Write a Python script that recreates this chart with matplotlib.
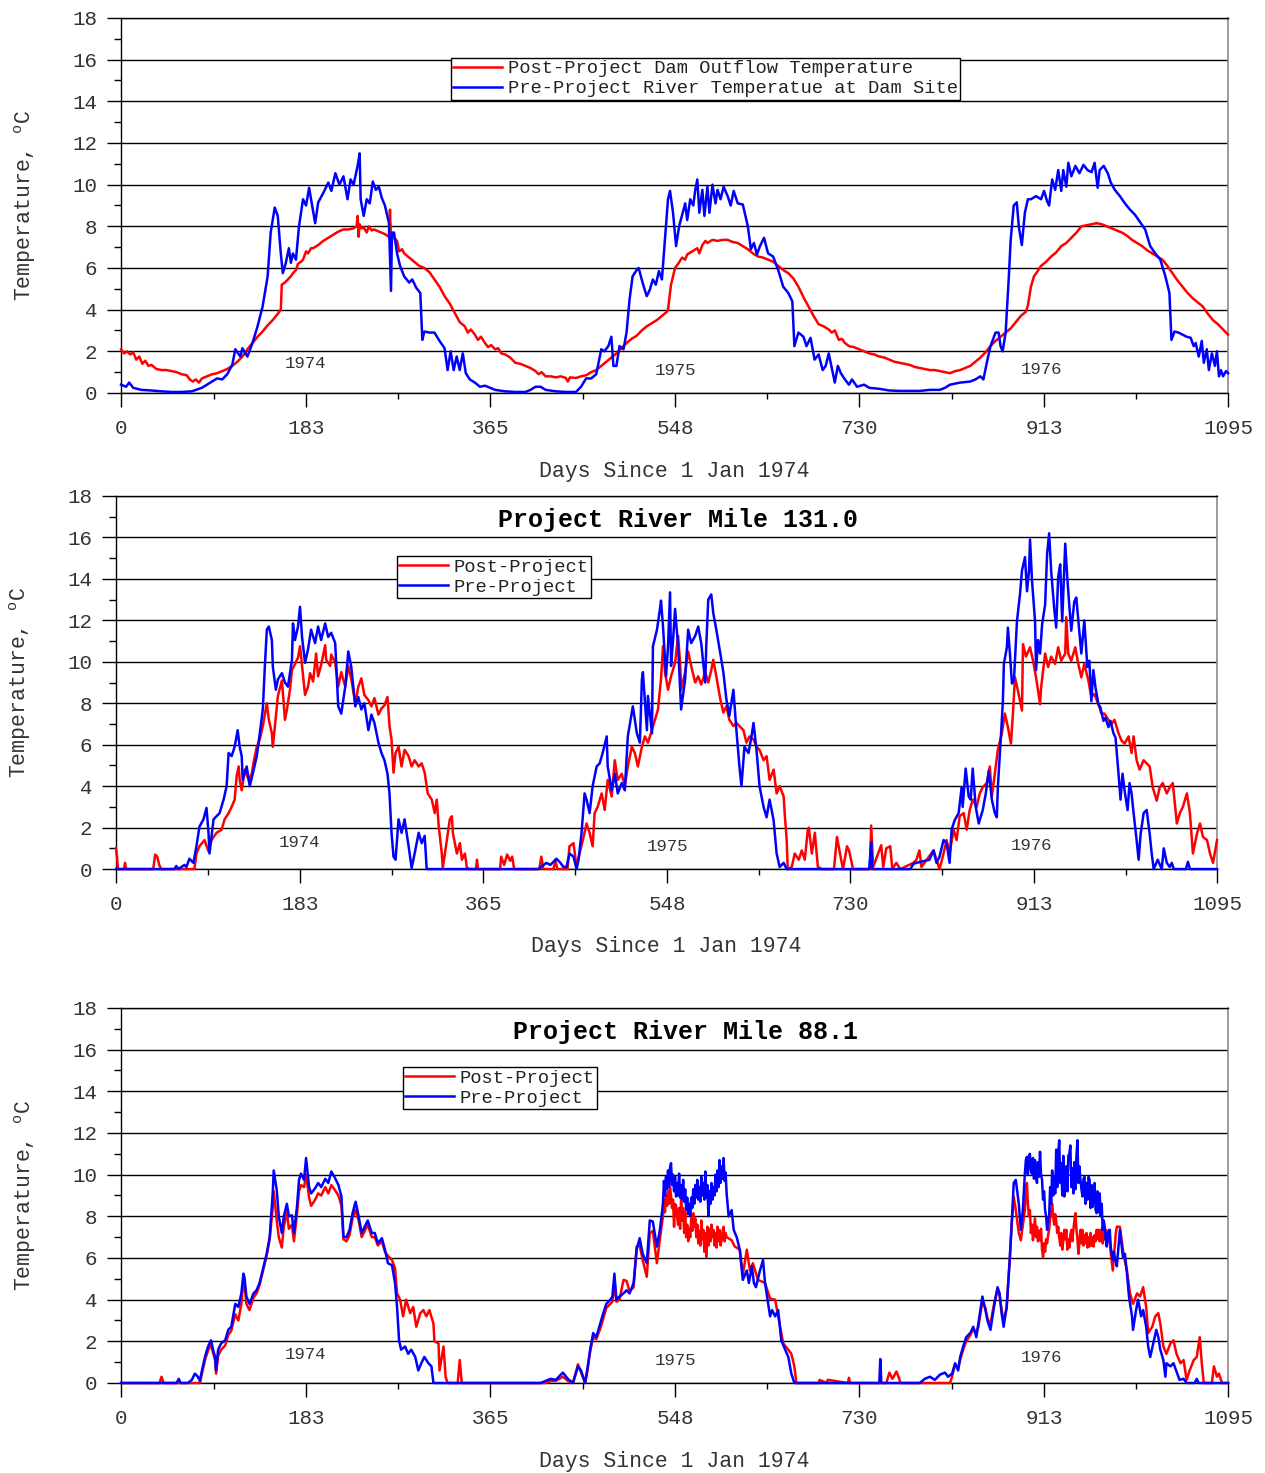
import numpy as np
import matplotlib
matplotlib.use("Agg")
import matplotlib.pyplot as plt

plt.rcParams['font.family'] = ['Liberation Mono', 'DejaVu Sans']
plt.rcParams['mathtext.fontset'] = 'custom'
plt.rcParams['mathtext.rm'] = 'Liberation Mono'

# ---- ejes comunes
xticks = [0, 183, 365, 548, 730, 913, 1095]
xticks_minor = [91.5, 274, 456.5, 639, 821.5, 1004]
year_labels = ['1974', '1975', '1976']
year_days = [182, 548, 910]

# ---- panel 1: dam site (post = outflow, pre = river)
d1_post = [0, 3, 6, 9, 12, 15, 18, 21, 24, 27,
           30, 35, 40, 45, 50, 55, 60, 65, 68, 71,
           74, 77, 80, 85, 90, 95, 100, 105, 110, 115,
           120, 125, 130, 135, 140, 145, 150, 155, 158, 159,
           162, 165, 168, 170, 173, 175, 178, 180, 183, 185,
           188, 190, 195, 200, 205, 210, 215, 220, 225, 230,
           233, 234, 235, 236, 238, 240, 243, 245, 248, 250,
           255, 260, 265, 266, 267, 270, 273, 275, 278, 280,
           285, 290, 295, 300, 305, 310, 315, 320, 325, 330,
           335, 340, 343, 346, 350, 353, 356, 360, 363, 366,
           370, 373, 376, 380, 385, 390, 395, 400, 405, 410,
           413, 416, 420, 425, 430, 435, 440, 442, 444, 450,
           455, 460, 465, 470, 475, 480, 485, 490, 495, 500,
           505, 510, 515, 520, 525, 530, 535, 540, 541, 544,
           548, 551, 555, 558, 560, 565, 570, 572, 575, 578,
           580, 585, 590, 595, 600, 605, 610, 615, 620, 625,
           630, 635, 640, 645, 650, 655, 660, 665, 670, 675,
           680, 685, 690, 695, 700, 703, 706, 710, 713, 716,
           720, 725, 730, 735, 740, 745, 750, 755, 760, 765,
           770, 775, 780, 785, 790, 795, 800, 805, 810, 815,
           820, 825, 830, 835, 840, 845, 850, 855, 860, 865,
           870, 875, 880, 885, 890, 895, 897, 900, 903, 906,
           910, 915, 920, 925, 930, 935, 940, 945, 950, 955,
           960, 965, 970, 975, 980, 985, 990, 995, 1000, 1005,
           1010, 1015, 1020, 1025, 1030, 1035, 1040, 1045, 1050, 1055,
           1060, 1065, 1070, 1075, 1080, 1085, 1090, 1095]
t1_post = [2.1, 1.9, 2.0, 1.85, 1.95, 1.6, 1.75, 1.4, 1.55, 1.3,
           1.35, 1.15, 1.1, 1.1, 1.05, 1.0, 0.9, 0.85, 0.65, 0.55,
           0.65, 0.5, 0.7, 0.8, 0.9, 0.95, 1.05, 1.15, 1.3, 1.5,
           1.75, 2.1, 2.4, 2.7, 2.95, 3.25, 3.5, 3.8, 4.0, 5.2,
           5.3, 5.45, 5.6, 5.75, 5.9, 6.2, 6.3, 6.4, 6.8, 6.7,
           6.95, 6.95, 7.1, 7.3, 7.45, 7.6, 7.75, 7.85, 7.85, 7.9,
           8.0, 8.5, 7.5, 8.1, 7.9, 7.95, 7.7, 8.0, 7.8, 7.85,
           7.75, 7.65, 7.5, 8.8, 7.4, 7.45, 7.3, 6.8, 6.9, 6.7,
           6.5, 6.3, 6.1, 6.0, 5.8, 5.45, 5.1, 4.65, 4.3, 3.85,
           3.4, 3.2, 2.9, 3.05, 2.8, 2.55, 2.7, 2.4, 2.2, 2.3,
           2.1, 2.15, 1.9, 1.85, 1.7, 1.45, 1.4, 1.3, 1.2, 1.05,
           0.9, 1.0, 0.8, 0.8, 0.75, 0.8, 0.72, 0.55, 0.75, 0.72,
           0.8, 0.85, 1.0, 1.1, 1.3, 1.5, 1.7, 1.9, 2.15, 2.4,
           2.6, 2.75, 3.0, 3.2, 3.35, 3.5, 3.7, 3.9, 4.0, 5.2,
           6.0, 6.2, 6.5, 6.4, 6.65, 6.8, 6.95, 6.7, 7.1, 7.3,
           7.2, 7.35, 7.3, 7.35, 7.35, 7.25, 7.2, 7.05, 6.9, 6.7,
           6.55, 6.5, 6.4, 6.3, 6.1, 5.9, 5.75, 5.5, 5.1, 4.6,
           4.15, 3.7, 3.3, 3.2, 3.05, 2.9, 3.0, 2.55, 2.6, 2.4,
           2.25, 2.2, 2.1, 2.0, 1.9, 1.85, 1.75, 1.7, 1.6, 1.5,
           1.45, 1.4, 1.35, 1.25, 1.2, 1.15, 1.1, 1.1, 1.05, 1.0,
           0.95, 1.05, 1.1, 1.2, 1.3, 1.5, 1.7, 1.95, 2.25, 2.5,
           2.7, 2.9, 3.1, 3.4, 3.7, 3.9, 4.2, 5.1, 5.6, 5.8,
           6.1, 6.3, 6.55, 6.75, 7.05, 7.2, 7.45, 7.7, 8.0, 8.05,
           8.1, 8.15, 8.1, 8.0, 7.9, 7.8, 7.7, 7.55, 7.35, 7.2,
           7.05, 6.85, 6.7, 6.55, 6.4, 6.1, 5.75, 5.4, 5.1, 4.8,
           4.55, 4.35, 4.15, 3.8, 3.5, 3.3, 3.05, 2.8]

d1_pre = [0, 5, 8, 12, 20, 30, 40, 50, 60, 70,
          80, 90, 95, 100, 105, 110, 113, 118, 120, 125,
          130, 135, 140, 145, 148, 152, 155, 158, 160, 163,
          166, 168, 170, 173, 176, 180, 183, 186, 189, 192,
          195, 200, 205, 208, 212, 216, 220, 224, 227, 230,
          234, 236, 237, 240, 243, 246, 249, 252, 255, 258,
          261, 265, 267, 268, 270, 273, 276, 280, 285, 288,
          292, 296, 298, 300, 305, 310, 315, 320, 323, 326,
          329, 332, 335, 338, 341, 345, 350, 355, 360, 365,
          370, 380, 390, 400, 405, 410, 415, 420, 430, 440,
          450, 455, 460, 465, 470, 475, 478, 482, 485, 487,
          490, 493, 497, 500, 503, 506, 510, 512, 515, 518,
          520, 523, 526, 529, 532, 535, 538, 541, 543, 546,
          549, 552, 555, 558, 560, 563, 566, 568, 570, 572,
          575, 577, 580, 582, 585, 588, 590, 593, 596, 600,
          603, 606, 610, 615, 620, 623, 626, 629, 632, 636,
          640, 645, 650, 655, 660, 664, 666, 670, 675, 678,
          682, 686, 690, 694, 697, 700, 703, 706, 709, 712,
          716, 720, 723, 728, 735, 740, 750, 760, 770, 780,
          790, 800, 810, 815, 820, 830, 840, 845, 850, 853,
          857, 860, 865, 868, 870, 872, 875, 878, 880, 883,
          886, 888, 891, 894, 897, 900, 905, 910, 913, 916,
          918, 921, 924, 927, 930, 932, 935, 937, 940, 944,
          948, 952, 956, 960, 963, 966, 968, 972, 976, 979,
          983, 988, 993, 998, 1003, 1008, 1013, 1018, 1023, 1028,
          1033, 1037, 1039, 1042, 1046, 1050, 1054, 1058, 1061, 1063,
          1066, 1069, 1071, 1074, 1076, 1079, 1082, 1084, 1086, 1088,
          1090, 1093, 1095]
t1_pre = [0.4, 0.3, 0.5, 0.25, 0.15, 0.12, 0.08, 0.05, 0.05, 0.08,
          0.25, 0.55, 0.7, 0.65, 0.9, 1.35, 2.1, 1.75, 2.15, 1.75,
          2.4, 3.2, 4.15, 5.6, 7.7, 8.9, 8.5, 6.7, 5.75, 6.25,
          6.95, 6.25, 6.7, 6.4, 8.0, 9.3, 9.0, 9.85, 9.0, 8.15,
          9.15, 9.6, 10.1, 9.7, 10.55, 10.0, 10.4, 9.3, 10.25, 10.0,
          10.9, 11.5, 9.3, 8.5, 9.3, 9.1, 10.15, 9.75, 9.9, 9.35,
          9.0, 8.15, 4.9, 7.7, 7.7, 6.7, 6.1, 5.6, 5.3, 5.45,
          5.05, 4.8, 2.55, 2.95, 2.9, 2.9, 2.5, 2.15, 1.1, 2.0,
          1.1, 1.75, 1.1, 1.9, 0.95, 0.65, 0.5, 0.3, 0.35, 0.25,
          0.15, 0.08, 0.05, 0.05, 0.15, 0.3, 0.3, 0.15, 0.08, 0.05,
          0.05, 0.3, 0.7, 0.7, 0.9, 2.1, 2.0, 2.25, 2.7, 1.3,
          1.3, 2.25, 2.1, 2.9, 4.5, 5.6, 5.9, 6.0, 5.45, 4.95,
          4.65, 4.95, 5.45, 5.2, 5.85, 5.45, 7.35, 9.3, 9.7, 8.65,
          7.05, 8.0, 8.55, 9.1, 8.3, 9.3, 9.0, 9.75, 10.25, 8.65,
          9.75, 8.5, 9.9, 8.65, 10.0, 9.1, 9.75, 9.3, 9.9, 9.45,
          9.0, 9.7, 9.1, 9.05, 8.0, 6.9, 7.2, 6.65, 7.05, 7.45,
          6.7, 6.55, 5.9, 5.1, 4.8, 4.4, 2.25, 2.9, 2.7, 2.25,
          2.65, 1.6, 1.85, 1.1, 1.3, 1.9, 1.2, 0.5, 1.3, 0.95,
          0.65, 0.4, 0.65, 0.3, 0.4, 0.25, 0.2, 0.12, 0.1, 0.1,
          0.1, 0.15, 0.15, 0.25, 0.4, 0.5, 0.55, 0.65, 0.8, 0.65,
          1.6, 2.25, 2.9, 2.9, 2.25, 2.0, 2.9, 5.45, 7.35, 9.0,
          9.15, 8.0, 7.1, 8.65, 9.3, 9.3, 9.45, 9.3, 9.7, 9.2,
          9.0, 10.25, 9.75, 10.7, 9.7, 10.7, 9.9, 11.05, 10.4, 10.9,
          10.55, 10.95, 10.7, 10.6, 11.05, 9.85, 10.7, 10.9, 10.55, 10.1,
          9.75, 9.45, 9.1, 8.8, 8.55, 8.2, 7.85, 7.05, 6.7, 6.4,
          5.6, 4.8, 2.55, 2.95, 2.9, 2.8, 2.7, 2.65, 2.25, 2.4,
          1.75, 2.5, 1.45, 2.1, 1.1, 1.9, 1.3, 2.0, 0.8, 1.1,
          0.8, 1.05, 0.95]

# ---- panel 2: river mile 131.0
d2_post = [0, 1, 2, 5, 8, 9, 10, 37, 39, 41,
           43, 45, 78, 80, 83, 88, 92, 95, 100, 105,
           108, 112, 115, 118, 120, 122, 123, 125, 128, 132,
           135, 137, 140, 143, 146, 150, 152, 155, 156, 159,
           161, 165, 166, 168, 170, 173, 175, 178, 181, 183,
           185, 188, 191, 193, 196, 199, 201, 204, 208, 209,
           213, 214, 218, 221, 224, 228, 231, 234, 238, 241,
           244, 247, 251, 254, 257, 261, 264, 267, 270, 272,
           274, 276, 278, 281, 284, 287, 291, 294, 297, 301,
           304, 307, 310, 314, 317, 319, 321, 324, 325, 329,
           332, 334, 335, 339, 342, 344, 347, 349, 352, 358,
           359, 360, 362, 382, 383, 386, 389, 392, 394, 396,
           421, 423, 425, 435, 437, 439, 449, 451, 455, 458,
           461, 465, 468, 471, 474, 476, 479, 483, 486, 489,
           493, 496, 499, 503, 506, 509, 513, 516, 519, 523,
           526, 529, 533, 536, 539, 542, 544, 546, 549, 552,
           556, 559, 561, 562, 566, 569, 572, 576, 579, 582,
           586, 589, 592, 594, 597, 601, 604, 607, 610, 614,
           617, 620, 624, 627, 630, 634, 637, 640, 644, 647,
           650, 654, 657, 660, 664, 665, 667, 668, 672, 675,
           679, 682, 685, 688, 689, 692, 695, 698, 702, 714,
           717, 720, 723, 727, 729, 733, 750, 751, 753, 758,
           761, 763, 766, 770, 772, 776, 780, 793, 796, 799,
           801, 813, 816, 819, 823, 826, 829, 833, 836, 839,
           843, 846, 849, 852, 856, 859, 862, 866, 869, 871,
           874, 877, 881, 884, 887, 890, 892, 894, 897, 901,
           902, 905, 909, 912, 915, 919, 920, 924, 927, 930,
           934, 937, 940, 944, 945, 947, 950, 954, 957, 960,
           963, 967, 970, 973, 977, 980, 983, 987, 990, 993,
           997, 1000, 1003, 1007, 1010, 1012, 1015, 1018, 1022, 1025,
           1028, 1031, 1035, 1038, 1041, 1045, 1048, 1051, 1055, 1058,
           1061, 1065, 1068, 1071, 1075, 1078, 1081, 1085, 1088, 1091,
           1095]
t2_post = [1.0, 0.6, 0, 0, 0, 0.3, 0, 0, 0.7, 0.6,
           0.2, 0, 0, 0.75, 1.1, 1.4, 0.85, 1.4, 1.75, 1.9,
           2.4, 2.7, 3.0, 3.35, 4.5, 4.95, 4.3, 3.8, 4.8, 4.3,
           4.6, 5.2, 5.9, 6.25, 6.9, 8.0, 7.2, 6.55, 5.9, 7.35,
           8.35, 9.1, 8.5, 7.2, 7.7, 8.65, 9.6, 9.9, 10.2, 10.75,
           9.8, 8.4, 8.8, 9.45, 9.05, 10.4, 9.3, 9.85, 10.8, 10.1,
           9.8, 10.35, 9.95, 8.8, 9.5, 8.8, 9.8, 9.15, 8.0, 8.8,
           9.2, 8.4, 8.15, 7.85, 8.25, 7.45, 7.75, 7.9, 8.3, 6.9,
           6.25, 4.65, 5.6, 5.9, 4.95, 5.75, 5.45, 4.95, 5.25, 4.95,
           5.1, 4.65, 3.65, 3.35, 2.7, 3.35, 2.05, 0.75, 0.05, 1.4,
           2.4, 2.55, 1.75, 0.75, 1.25, 0.45, 0.75, 0.05, 0, 0,
           0.45, 0, 0, 0, 0.6, 0.2, 0.7, 0.4, 0.6, 0,
           0, 0.6, 0, 0, 0.4, 0, 0, 1.1, 1.25, 0.1,
           0.75, 1.55, 2.2, 1.75, 1.1, 2.7, 3.0, 3.65, 2.85, 4.3,
           3.5, 5.25, 4.3, 4.6, 4.0, 4.95, 5.9, 5.6, 4.95, 5.9,
           6.4, 6.1, 6.7, 7.2, 7.7, 9.15, 10.75, 9.5, 8.65, 9.3,
           9.95, 11.25, 9.95, 8.65, 9.5, 10.5, 9.8, 9.0, 9.3, 8.9,
           9.5, 9.0, 9.6, 10.1, 9.3, 8.2, 7.55, 7.85, 7.2, 6.9,
           7.05, 6.9, 6.7, 6.1, 6.4, 6.25, 5.9, 5.75, 5.25, 5.45,
           4.3, 4.8, 3.65, 4.0, 3.5, 2.7, 1.4, 0, 0.1, 0.75,
           0.45, 0.9, 0.45, 1.9, 2.0, 0.75, 1.75, 0.1, 0, 0,
           1.55, 0.75, 0, 1.1, 0.9, 0, 0, 2.1, 0.1, 0.75,
           1.15, 0.1, 1.0, 1.1, 0, 0.3, 0, 0.3, 0.45, 0.9,
           0.1, 0.9, 0.45, 0, 0.75, 1.4, 0.75, 1.9, 1.4, 2.55,
           2.7, 1.9, 2.85, 3.35, 3.0, 3.65, 3.95, 4.15, 4.95, 3.5,
           4.6, 5.75, 6.55, 7.5, 6.85, 6.05, 7.5, 9.25, 8.6, 7.65,
           10.85, 10.25, 10.7, 10.05, 9.25, 7.95, 8.75, 10.4, 9.75, 10.25,
           9.9, 10.7, 10.05, 10.4, 12.15, 10.4, 10.05, 10.7, 9.9, 9.25,
           9.9, 9.1, 8.3, 8.45, 7.95, 7.5, 7.5, 7.2, 7.0, 7.2,
           6.55, 6.2, 6.05, 6.4, 5.6, 6.4, 5.25, 4.8, 5.25, 5.1,
           4.95, 3.95, 3.3, 3.95, 4.15, 3.65, 3.95, 4.15, 2.2, 2.7,
           3.0, 3.65, 2.7, 0.75, 1.7, 2.2, 1.55, 1.4, 0.75, 0.3,
           1.4]

d2_pre = [0, 58, 60, 62, 68, 70, 73, 77, 80, 83,
          87, 90, 92, 93, 97, 100, 103, 107, 110, 112,
          115, 118, 121, 123, 125, 126, 130, 133, 136, 140,
          143, 146, 148, 150, 152, 155, 156, 159, 161, 165,
          168, 171, 175, 176, 178, 181, 183, 185, 188, 191,
          194, 198, 201, 204, 208, 211, 214, 218, 221, 224,
          228, 231, 234, 238, 241, 244, 247, 251, 254, 257,
          261, 264, 267, 270, 272, 274, 276, 278, 281, 284,
          287, 291, 294, 297, 301, 304, 307, 309, 420, 428,
          432, 438, 442, 445, 448, 451, 455, 458, 460, 463,
          466, 468, 471, 474, 478, 481, 484, 488, 489, 493,
          496, 499, 503, 506, 509, 513, 514, 518, 521, 523,
          524, 528, 529, 533, 534, 538, 541, 542, 544, 547,
          549, 551, 552, 554, 556, 559, 562, 566, 569, 572,
          576, 579, 582, 586, 587, 589, 592, 594, 597, 601,
          604, 607, 610, 614, 617, 620, 622, 625, 629, 632,
          634, 637, 640, 644, 647, 650, 654, 657, 660, 664,
          667, 749, 750, 751, 752, 790, 793, 796, 809, 813,
          816, 819, 823, 826, 829, 831, 834, 838, 841, 842,
          845, 848, 850, 852, 855, 858, 862, 865, 868, 871,
          874, 876, 877, 880, 882, 883, 886, 887, 889, 891,
          893, 896, 899, 901, 904, 906, 908, 909, 911, 914,
          915, 917, 919, 921, 924, 926, 928, 930, 933, 935,
          937, 939, 941, 944, 946, 948, 950, 953, 955, 958,
          960, 962, 963, 966, 968, 970, 972, 974, 977, 979,
          982, 984, 987, 989, 992, 994, 997, 999, 1001, 1003,
          1006, 1008, 1010, 1012, 1015, 1017, 1019, 1022, 1025, 1028,
          1030, 1032, 1036, 1040, 1042, 1045, 1048, 1050, 1052, 1064,
          1066, 1068, 1095]
t2_pre = [0, 0, 0.15, 0, 0.2, 0.1, 0.5, 0.3, 1.1, 2.05,
          2.4, 2.95, 1.75, 0.75, 2.4, 2.55, 2.7, 3.35, 4.0, 5.6,
          5.45, 5.9, 6.7, 5.9, 5.45, 4.3, 4.95, 4.0, 4.6, 5.45,
          6.55, 7.7, 9.75, 11.55, 11.7, 11.05, 9.75, 8.65, 9.15, 9.45,
          9.0, 8.8, 10.1, 11.85, 11.05, 11.7, 12.65, 11.2, 9.95, 10.6,
          11.55, 10.9, 11.7, 11.05, 11.85, 11.2, 11.4, 10.9, 7.85, 7.5,
          8.8, 10.5, 9.75, 7.85, 8.3, 7.7, 8.0, 6.7, 7.45, 7.05,
          6.1, 5.6, 5.25, 4.6, 3.65, 1.75, 0.6, 0.45, 2.4, 1.75,
          2.4, 1.1, 0.05, 0.75, 1.75, 1.25, 1.6, 0, 0, 0.3,
          0.2, 0.5, 0.3, 0.1, 0.1, 0.75, 0.6, 0, 0.45, 1.75,
          3.65, 3.35, 2.7, 4.0, 4.95, 5.1, 5.6, 6.4, 4.95, 3.8,
          4.6, 3.65, 4.15, 3.8, 6.4, 7.55, 7.85, 6.55, 6.1, 9.15,
          9.5, 6.7, 8.35, 6.55, 10.75, 11.55, 12.55, 12.95, 11.7, 9.3,
          10.75, 13.35, 9.8, 11.05, 12.55, 10.75, 7.7, 9.15, 11.55, 10.9,
          11.25, 11.7, 10.9, 9.0, 10.75, 13.0, 13.25, 12.35, 11.55, 10.4,
          9.5, 8.2, 7.4, 8.65, 6.7, 4.95, 4.0, 5.9, 5.6, 6.4,
          7.05, 5.75, 4.0, 3.0, 2.5, 3.35, 2.35, 0.75, 0.1, 0.3,
          0, 0, 0.6, 1.3, 0, 0, 0.25, 0.3, 0.45, 0.9,
          0.3, 0.6, 1.4, 1.25, 0.3, 1.9, 2.35, 2.7, 3.95, 3.0,
          4.85, 3.5, 3.35, 4.85, 3.0, 2.2, 2.85, 3.65, 4.75, 3.35,
          2.7, 2.5, 3.95, 6.35, 8.1, 9.9, 10.7, 11.65, 10.4, 8.95,
          9.1, 11.95, 13.25, 14.4, 15.05, 13.4, 14.4, 15.9, 13.9, 11.95,
          9.6, 11.05, 10.4, 11.8, 12.75, 15.2, 16.2, 14.4, 12.6, 11.65,
          14.1, 14.7, 11.95, 15.7, 14.1, 12.75, 11.5, 12.9, 13.1, 11.5,
          10.4, 11.5, 12.0, 9.75, 10.05, 8.1, 9.6, 8.8, 7.95, 7.8,
          7.15, 7.3, 6.85, 7.15, 6.55, 6.35, 4.6, 3.35, 4.6, 3.8,
          2.85, 4.15, 3.65, 2.7, 1.4, 0.45, 1.7, 2.7, 2.85, 1.7,
          0.75, 0, 0.45, 0, 1.0, 0.3, 0.1, 0.3, 0, 0,
          0.35, 0, 0]

# ---- panel 3: river mile 88.1 (en tramos; los picos de 1975 y 1976 van día a día)
d3_post_a = [0, 38, 40, 42, 78, 80, 83, 86, 89, 91,
             93, 94, 96, 99, 103, 106, 109, 113, 116, 119,
             121, 122, 124, 127, 131, 134, 137, 141, 144, 147,
             150, 151, 154, 156, 159, 161, 164, 166, 169, 171,
             174, 176, 178, 181, 183, 186, 188, 192, 195, 198,
             202, 205, 208, 211, 215, 218, 220, 223, 226, 229,
             232, 235, 238, 241, 244, 248, 251, 254, 258, 261,
             264, 268, 271, 273, 276, 279, 282, 286, 289, 292,
             296, 299, 302, 305, 309, 310, 314, 315, 319, 321,
             323, 333, 335, 337, 420, 425, 430, 437, 442, 447,
             452, 455, 459, 461, 464, 467, 470, 474, 477, 480,
             484, 486, 488, 490, 493, 497, 500, 503, 507, 510,
             513, 516, 520, 523, 526, 530, 533]
t3_post_a = [0, 0, 0.3, 0, 0, 0.45, 1.1, 1.55, 1.85, 1.45,
             1.1, 0.45, 1.3, 1.6, 1.8, 2.3, 2.5, 3.3, 3.0, 3.8,
             4.9, 4.8, 3.8, 3.5, 4.1, 4.3, 4.7, 5.5, 6.1, 6.9,
             8.4, 9.2, 7.8, 7.0, 6.5, 7.5, 8.2, 7.4, 7.6, 6.8,
             8.1, 9.2, 9.5, 9.4, 10.0, 8.9, 8.5, 8.8, 9.1, 9.0,
             9.4, 9.1, 9.5, 9.3, 9.0, 8.5, 6.9, 6.8, 7.1, 7.9,
             8.3, 7.8, 7.0, 7.3, 7.6, 7.0, 7.0, 6.6, 6.8, 6.3,
             6.1, 5.9, 5.5, 4.3, 4.0, 3.2, 4.0, 3.35, 3.65, 2.7,
             3.35, 3.5, 3.2, 3.5, 2.85, 2.0, 1.9, 0.6, 1.75, 0.3,
             0, 0, 1.1, 0, 0, 0.1, 0.1, 0.3, 0.1, 0,
             0.9, 0.5, 0, 0.5, 1.5, 2.2, 2.1, 2.6, 3.1, 3.6,
             3.8, 3.9, 4.8, 3.9, 4.0, 4.95, 4.9, 4.4, 4.6, 6.55,
             6.6, 5.9, 5.1, 7.2, 7.3, 5.75, 6.9]
d3_75 = list(range(536, 600))
t3_post_75 = [8.0, 8.8, 8.2, 9.0, 8.5, 9.2, 8.6, 9.4, 9.0, 8.4,
              8.8, 7.5, 8.6, 8.5, 8.0, 7.6, 8.4, 7.4, 8.9, 7.8,
              8.4, 7.2, 8.2, 7.0, 7.6, 6.8, 7.4, 7.0, 7.9, 7.3,
              8.15, 7.5, 7.9, 7.0, 7.6, 6.7, 7.3, 6.6, 7.8, 6.9,
              7.35, 6.3, 7.2, 6.05, 7.5, 6.6, 7.4, 6.8, 7.6, 7.0,
              7.35, 6.6, 7.2, 6.5, 7.5, 6.8, 7.35, 6.6, 6.85, 7.3,
              7.5, 6.8, 7.2, 7.0]
d3_post_b = [604, 607, 612, 615, 619, 622, 625, 630, 637, 642,
             647, 650, 655, 660, 663, 666, 668, 690, 691, 698,
             699, 719, 720, 721, 757, 760, 763, 767, 769, 771,
             820, 822, 825, 828, 830, 833, 836, 840, 843, 846,
             848, 850, 852, 855, 857, 860, 862, 864, 867, 869,
             871, 873, 876, 879, 881, 883, 885, 888, 890]
t3_post_b = [6.85, 6.55, 6.4, 5.2, 6.4, 5.4, 5.75, 4.95, 4.8, 4.05,
             4.0, 3.2, 1.9, 1.6, 1.4, 0.8, 0, 0, 0.15, 0,
             0.15, 0, 0.25, 0, 0, 0.5, 0.2, 0.55, 0.3, 0,
             0, 0.3, 0.9, 0.7, 1.1, 1.6, 2.0, 2.3, 2.6, 2.4,
             2.7, 3.3, 3.9, 3.6, 3.1, 2.8, 3.4, 3.9, 4.5, 4.2,
             3.5, 3.0, 3.6, 5.9, 7.65, 8.95, 8.3, 7.2, 6.85]
d3_76 = list(range(894, 986))
t3_post_76 = [8.3, 9.2, 9.6, 8.6, 8.0, 8.3, 7.2, 7.6, 6.85, 7.4,
              7.9, 7.0, 7.5, 6.8, 7.3, 6.85, 7.4, 6.4, 6.05, 6.7,
              6.3, 6.9, 6.7, 7.1, 7.35, 7.9, 8.3, 8.6, 8.0, 7.6,
              8.1, 7.8, 7.2, 7.5, 7.0, 6.6, 7.2, 6.4, 6.8, 7.35,
              6.9, 7.35, 6.4, 6.9, 6.5, 7.1, 7.35, 6.8, 7.35, 7.8,
              8.15, 7.4, 6.9, 6.2, 6.8, 7.35, 6.7, 7.35, 6.6, 7.1,
              6.7, 7.2, 6.5, 7.0, 6.55, 7.2, 6.6, 7.0, 6.55, 7.1,
              6.8, 7.35, 6.9, 7.35, 6.8, 7.35, 7.0, 6.7, 7.35, 6.9,
              7.35, 6.7, 7.1, 7.35, 6.8, 6.2, 5.8, 5.4, 6.05, 6.6,
              7.2, 7.5]
d3_post_c = [988, 992, 995, 998, 1001, 1005, 1008, 1011, 1014, 1016,
             1020, 1023, 1026, 1028, 1031, 1034, 1038, 1041, 1044, 1048,
             1051, 1054, 1057, 1061, 1064, 1067, 1069, 1071, 1079, 1081,
             1084, 1086, 1089, 1095]
t3_post_c = [7.5, 6.05, 5.4, 4.3, 3.8, 4.3, 4.15, 4.6, 3.65, 2.4,
             2.7, 3.2, 3.35, 2.85, 1.75, 1.4, 1.9, 2.05, 1.4, 0.95,
             1.1, 0.15, 0.6, 1.1, 1.25, 2.2, 0.95, 0, 0, 0.8,
             0.3, 0.45, 0, 0]

d3_pre_a = [0, 55, 57, 59, 66, 70, 73, 76, 78, 80,
            83, 86, 89, 91, 93, 94, 96, 99, 103, 106,
            109, 113, 116, 119, 121, 122, 124, 127, 131, 134,
            137, 141, 144, 147, 150, 151, 154, 156, 159, 161,
            164, 166, 169, 171, 174, 176, 178, 181, 183, 186,
            188, 192, 195, 198, 202, 205, 208, 211, 215, 218,
            220, 223, 226, 229, 232, 235, 238, 241, 244, 248,
            251, 254, 258, 261, 264, 268, 271, 273, 275, 277,
            281, 284, 287, 291, 294, 297, 300, 304, 307, 309,
            415, 420, 425, 430, 437, 442, 447, 452, 455, 459,
            461, 464, 467, 470, 474, 477, 480, 484, 486, 488,
            490, 493, 497, 500, 503, 507, 510, 513, 516, 520,
            523, 526, 530, 533]
t3_pre_a = [0, 0, 0.2, 0, 0, 0.15, 0.45, 0.3, 0.1, 0.6,
            1.25, 1.75, 2.05, 1.6, 1.25, 0.6, 1.6, 1.9, 2.05, 2.55,
            2.7, 3.8, 3.65, 4.3, 5.25, 5.1, 4.15, 3.8, 4.3, 4.45,
            4.8, 5.6, 6.2, 7.0, 9.1, 10.2, 9.25, 8.0, 7.2, 8.0,
            8.6, 8.0, 8.05, 7.2, 8.45, 9.75, 10.05, 9.75, 10.8, 9.4,
            9.1, 9.35, 9.6, 9.4, 9.8, 9.6, 10.15, 9.9, 9.5, 8.95,
            7.0, 7.0, 7.35, 8.15, 8.7, 8.0, 7.2, 7.5, 7.8, 7.2,
            7.2, 6.7, 6.95, 6.4, 5.75, 5.65, 4.8, 3.65, 2.05, 1.6,
            1.75, 1.4, 1.6, 1.25, 0.6, 0.95, 1.25, 0.95, 0.8, 0,
            0, 0.1, 0.2, 0.15, 0.5, 0.2, 0, 0.8, 0.6, 0,
            0.6, 1.6, 2.4, 2.2, 2.85, 3.35, 3.8, 4.0, 4.15, 5.25,
            4.0, 4.15, 4.3, 4.45, 4.3, 4.8, 6.4, 6.95, 6.2, 5.75,
            7.8, 7.75, 6.55, 7.35]
t3_pre_75 = [8.6, 9.7, 9.0, 9.9, 9.3, 10.2, 9.4, 10.3, 10.55, 9.5,
             10.0, 9.2, 9.9, 8.95, 9.6, 9.0, 10.05, 8.9, 9.5, 8.8,
             9.75, 8.7, 9.3, 8.3, 8.9, 8.1, 8.6, 8.0, 8.9, 8.4,
             9.3, 8.6, 9.5, 8.9, 9.75, 8.8, 9.4, 8.7, 9.9, 9.0,
             9.6, 8.8, 10.15, 8.9, 9.5, 8.0, 9.2, 8.6, 9.6, 8.8,
             9.4, 9.0, 10.0, 9.2, 10.2, 9.4, 10.7, 9.6, 10.4, 9.8,
             10.8, 9.7, 10.1, 9.1]
d3_pre_b = [601, 604, 606, 609, 612, 615, 619, 621, 624,
            626, 628, 632, 635, 637, 639, 642, 644, 647, 650,
            653, 657, 660, 663, 666, 750, 751, 752, 790, 795,
            800, 805, 810, 815, 818, 822, 825, 828, 830, 833,
            836, 840, 843, 846, 848, 850, 852, 855, 857, 860,
            862, 864, 867, 869, 871, 873, 876, 879, 881, 883,
            885, 888, 890, 892]
t3_pre_b = [8.0, 8.3, 7.35, 7.0, 6.4, 4.95, 5.4, 4.8, 5.6,
            4.8, 4.6, 5.4, 5.9, 4.8, 4.15, 3.2, 3.5, 3.2, 3.5,
            2.05, 1.6, 1.25, 0.45, 0, 0, 1.15, 0, 0, 0.2,
            0.3, 0.15, 0.4, 0.5, 0.3, 0.45, 0.95, 0.6, 1.25, 1.75,
            2.2, 2.4, 2.7, 2.2, 2.85, 3.5, 4.15, 3.5, 3.0, 2.55,
            3.2, 3.8, 4.6, 4.3, 3.35, 2.7, 3.65, 5.9, 7.65, 9.6,
            9.75, 8.6, 7.35, 8.3]
t3_pre_76 = [10.05, 10.7, 10.85, 10.0, 10.9, 11.0, 10.2, 10.05, 10.8, 9.8,
             10.7, 9.9, 9.6, 10.6, 9.9, 11.1, 10.0, 9.75, 8.8, 9.2,
             8.3, 8.0, 7.35, 7.9, 8.0, 9.4, 8.6, 10.2, 9.0, 9.9,
             9.1, 11.2, 9.4, 11.0, 11.65, 9.6, 10.55, 9.0, 10.9, 8.95,
             9.8, 10.4, 9.2, 10.9, 11.0, 11.4, 9.4, 10.3, 9.1, 10.6,
             9.3, 10.85, 11.65, 9.6, 10.4, 9.75, 9.3, 8.95, 9.8, 9.9,
             8.6, 9.6, 8.8, 9.9, 9.75, 8.4, 9.5, 8.45, 9.3, 9.6,
             8.3, 8.15, 9.2, 8.2, 9.1, 8.0, 8.6, 7.35, 7.8, 7.5,
             6.9, 6.55, 7.2, 6.8, 7.35, 6.5, 6.2, 5.9, 6.3, 6.05,
             5.8, 5.6]
d3_pre_c = [988, 991, 993, 995, 997, 1000, 1001,
            1004, 1006, 1009, 1011, 1014, 1016, 1018, 1021, 1024, 1026,
            1028, 1031, 1033, 1034, 1038, 1041, 1044, 1047, 1051, 1054,
            1062, 1064, 1066, 1095]
t3_pre_c = [7.35, 6.05, 6.2, 5.25, 4.15, 3.2, 2.55,
            3.5, 4.0, 3.2, 3.5, 2.7, 1.75, 1.25, 1.9, 2.55, 2.2,
            1.6, 1.1, 0.3, 0.95, 0.8, 0.95, 0.55, 0.15, 0.2, 0,
            0, 0.2, 0, 0]

d3_post = d3_post_a + d3_75 + d3_post_b + d3_76 + d3_post_c
t3_post = t3_post_a + t3_post_75 + t3_post_b + t3_post_76 + t3_post_c
d3_pre = d3_pre_a + d3_75 + d3_pre_b + d3_76 + d3_pre_c
t3_pre = t3_pre_a + t3_pre_75 + t3_pre_b + t3_pre_76 + t3_pre_c

# posición de las etiquetas de año (temperatura) por panel
year_temps = [[1.4, 1.1, 1.15], [1.3, 1.1, 1.15], [1.35, 1.1, 1.2]]


def preparar_ejes(ax):
    ax.set_xlim(0, 1095)
    ax.set_ylim(0, 18)
    ax.set_xticks(xticks)
    ax.set_xticklabels([str(x) for x in xticks])
    ax.set_xticks(xticks_minor, minor=True)
    ax.set_yticks(range(0, 19, 2))
    ax.set_yticks(range(1, 18, 2), minor=True)
    ax.grid(axis='y', which='major', color='black', lw=1.0, zorder=1)
    ax.tick_params(axis='both', which='major', direction='out', length=10,
                   width=1.0, color='black', labelsize=15, labelcolor='#333333')
    ax.tick_params(axis='y', which='major', pad=7)
    ax.tick_params(axis='x', which='major', pad=9)
    ax.tick_params(axis='y', which='minor', direction='out', length=5, width=1.0)
    ax.tick_params(axis='x', which='minor', direction='out', length=4, width=1.0)
    for lado in ['top', 'left', 'bottom']:
        ax.spines[lado].set_color('black')
        ax.spines[lado].set_linewidth(1.0)
    ax.spines['right'].set_color('#8a8a8a')
    ax.spines['right'].set_linewidth(1.2)
    ax.text(0.5, -0.208, 'Days Since 1 Jan 1974', transform=ax.transAxes,
            ha='center', va='center', fontsize=15.5, color='#333333')
    ax.text(-0.087, 0.5, r'Temperature, $^{\mathrm{o}}$C', transform=ax.transAxes,
            rotation=90, ha='center', va='center', fontsize=15.5, color='#333333')


def dibujar(ax, d_post, t_post, d_pre, t_pre, etiquetas, ancla, temps_anio, titulo=None):
    preparar_ejes(ax)
    ax.plot(d_post, t_post, color='#ff0000', lw=1.8, label=etiquetas[0], zorder=3, clip_on=False)
    ax.plot(d_pre, t_pre, color='#0000ff', lw=1.8, label=etiquetas[1], zorder=4, clip_on=False)
    for dia, temp, txt in zip(year_days, temps_anio, year_labels):
        ax.text(dia, temp, txt, ha='center', va='center', fontsize=12.5, color='#333333', zorder=5)
    if titulo:
        ax.text(0.51, 0.936, titulo, transform=ax.transAxes, ha='center', va='center',
                fontsize=18, fontweight='bold', color='black')
    leg = ax.legend(loc='upper left', bbox_to_anchor=ancla, borderaxespad=0,
                    fontsize=13.5, handlelength=2.6, handletextpad=0.3,
                    labelspacing=0.15, borderpad=0.12, fancybox=False,
                    framealpha=1, edgecolor='black')
    leg.get_frame().set_linewidth(1.0)
    leg.set_zorder(10)
    for t in leg.get_texts():
        t.set_color('#222222')


fig = plt.figure(figsize=(12.65, 14.73), dpi=100)
ax1 = fig.add_axes([0.0957, 0.7332, 0.8751, 0.2546])
ax2 = fig.add_axes([0.0917, 0.4100, 0.8704, 0.2533])
ax3 = fig.add_axes([0.0957, 0.0611, 0.8751, 0.2546])

dibujar(ax1, d1_post, t1_post, d1_pre, t1_pre,
        ['Post-Project Dam Outflow Temperature', 'Pre-Project River Temperatue at Dam Site'],
        (0.298, 0.893), year_temps[0])
dibujar(ax2, d2_post, t2_post, d2_pre, t2_pre, ['Post-Project', 'Pre-Project'],
        (0.255, 0.838), year_temps[1], 'Project River Mile 131.0')
dibujar(ax3, d3_post, t3_post, d3_pre, t3_pre, ['Post-Project', 'Pre-Project'],
        (0.2547, 0.842), year_temps[2], 'Project River Mile 88.1')

fig.savefig('out.png', dpi=100, facecolor='white')
